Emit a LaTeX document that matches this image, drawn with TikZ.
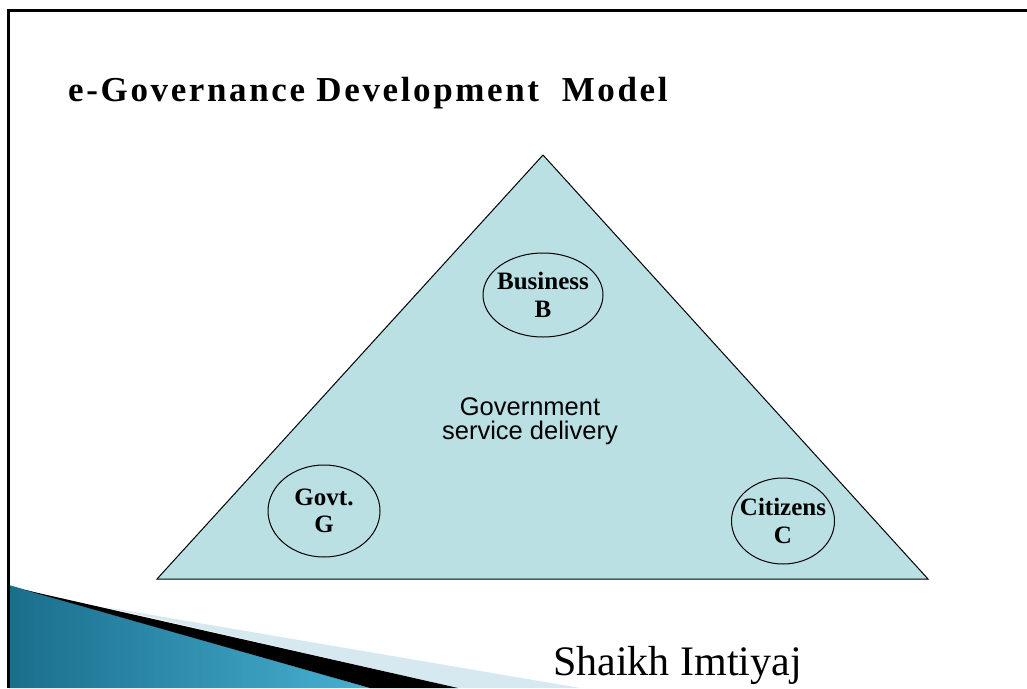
\documentclass[tikz,border=0pt]{standalone}
\usepackage{fontspec}
\setmainfont{Liberation Serif}
\newfontfamily\arialfont{Liberation Sans}
\newfontfamily\titlefont[LetterSpace=7.5]{Liberation Serif}
\usetikzlibrary{shapes.geometric}
\definecolor{trifill}{RGB}{186,224,228}
\definecolor{swdark}{RGB}{26,110,140}
\definecolor{swlight}{RGB}{72,176,210}
\definecolor{swpale}{RGB}{214,233,240}
\tikzset{
  party/.style={ellipse, draw=black, line width=1pt, align=center,
    font=\fontsize{25}{27.5}\selectfont\bfseries, inner xsep=-12pt, inner ysep=0pt},
}
\begin{document}
\begin{tikzpicture}[x=1pt,y=-1pt]
\useasboundingbox (0,0) rectangle (1027,688);
\fill[white] (0,0) rectangle (1027,688);
% swoosh
\shade[left color=swdark, right color=swlight]
  (9,585) -- (370,688) -- (9,688) -- cycle;
\fill[swpale] (105,607) -- (580,688) -- (458,688) -- cycle;
\fill[black] (25,590) -- (458,688) -- (370,688) -- cycle;
% border
\draw[line width=2.5pt] (8.5,688) -- (8.5,10.5) -- (1027,10.5);
% title
\node[anchor=base west, inner sep=0pt] (title) at (68,101)
  {\titlefont\fontsize{35}{37}\selectfont\bfseries e-Governance Development\ \ Model};
% triangle
\coordinate (apex) at (543,155);
\coordinate (bl) at (157,579);
\coordinate (br) at (928,579);
\draw[fill=trifill, line width=1pt] (apex) -- (br) -- (bl) -- cycle;
% parties
\node[party, minimum width=120pt, minimum height=84pt] (bus) at (543,295) {Business\\B};
\node[party, minimum width=112pt, minimum height=92pt] (gov) at (324,511) {Govt.\\G};
\node[party, minimum width=103pt, minimum height=86pt] (cit) at (783,521) {Citizens\\C};
% centre text
\node[align=center, inner sep=0pt, font=\arialfont\fontsize{25.5}{24.5}\selectfont] (gsd) at (530,421)
  {Government\\service delivery};
% author
\node[anchor=base west, inner sep=0pt, font=\fontsize{42}{44}\selectfont] (author) at (553,675) {Shaikh Imtiyaj};
\end{tikzpicture}
\end{document}
